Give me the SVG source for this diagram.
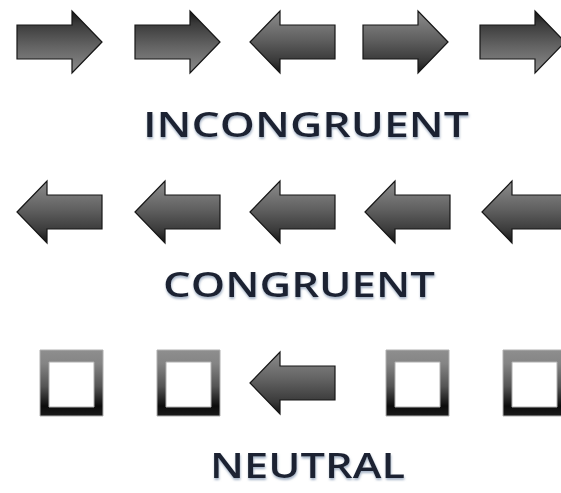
<svg xmlns="http://www.w3.org/2000/svg" xmlns:xlink="http://www.w3.org/1999/xlink" width="561" height="493" viewBox="0 0 561 493">
<defs>
<linearGradient id="gArrow" x1="0" y1="0" x2="0" y2="1">
<stop offset="0" stop-color="#8c8c8c"/>
<stop offset="0.45" stop-color="#616161"/>
<stop offset="0.8" stop-color="#3a3a3a"/>
<stop offset="1" stop-color="#141414"/>
</linearGradient>
<linearGradient id="gFrame" x1="0" y1="0" x2="0" y2="1">
<stop offset="0" stop-color="#8e8e8e"/>
<stop offset="0.2" stop-color="#858585"/>
<stop offset="0.55" stop-color="#555"/>
<stop offset="0.85" stop-color="#0c0c0c"/>
<stop offset="1" stop-color="#1a1a1a"/>
</linearGradient>
<filter id="glow" x="-5%" y="-20%" width="110%" height="150%">
<feDropShadow dx="0.5" dy="2" stdDeviation="1.2" flood-color="#8fa0b8" flood-opacity="0.8"/>
</filter>
<path id="arrowL" d="M0,0 L30,-31 L30,-17 L85,-17 L85,17 L30,17 L30,31 Z"/>
<path id="box" fill-rule="evenodd" d="M0,0 H63 V66 H0 Z M9,12 V57 H54 V12 Z"/>
</defs>
<style>
.arr { fill: url(#gArrow); stroke: #161616; stroke-width: 1.2; stroke-linejoin: miter; }
.box { fill: url(#gFrame); stroke: #b0b0b0; stroke-width: 1; }
.lbl { font-family: "Open Sans", "Liberation Sans", sans-serif; font-size: 34px; font-weight: 600; fill: #1b2233; filter: url(#glow); }
</style>
<rect width="561" height="493" fill="#ffffff"/>

<g id="row-incongruent">
<g id="inc-1"><use href="#arrowL" class="arr" transform="translate(102,42) rotate(180)"/></g>
<g id="inc-2"><use href="#arrowL" class="arr" transform="translate(220,42) rotate(180)"/></g>
<g id="inc-3"><use href="#arrowL" class="arr" transform="translate(250,42)"/></g>
<g id="inc-4"><use href="#arrowL" class="arr" transform="translate(448,42) scale(-1,1)"/></g>
<g id="inc-5"><use href="#arrowL" class="arr" transform="translate(565,42) rotate(180)"/></g>
</g>
<g id="label-incongruent">
<text class="lbl" x="143" y="137" textLength="326" lengthAdjust="spacingAndGlyphs">INCONGRUENT</text>
</g>

<g id="row-congruent">
<g id="con-1"><use href="#arrowL" class="arr" transform="translate(17,212)"/></g>
<g id="con-2"><use href="#arrowL" class="arr" transform="translate(135,212)"/></g>
<g id="con-3"><use href="#arrowL" class="arr" transform="translate(250,212)"/></g>
<g id="con-4"><use href="#arrowL" class="arr" transform="translate(365,212)"/></g>
<g id="con-5"><use href="#arrowL" class="arr" transform="translate(482,212)"/></g>
</g>
<g id="label-congruent">
<text class="lbl" x="163" y="297" textLength="272" lengthAdjust="spacingAndGlyphs">CONGRUENT</text>
</g>

<g id="row-neutral">
<g id="neu-1"><use href="#box" class="box" transform="translate(40,350)"/></g>
<g id="neu-2"><use href="#box" class="box" transform="translate(157,350)"/></g>
<g id="neu-3"><use href="#arrowL" class="arr" transform="translate(250,383)"/></g>
<g id="neu-4"><use href="#box" class="box" transform="translate(386,350)"/></g>
<g id="neu-5"><use href="#box" class="box" transform="translate(503,350)"/></g>
</g>
<g id="label-neutral">
<text class="lbl" x="210" y="478" textLength="195" lengthAdjust="spacingAndGlyphs">NEUTRAL</text>
</g>
<g id="connectors"/>
</svg>
